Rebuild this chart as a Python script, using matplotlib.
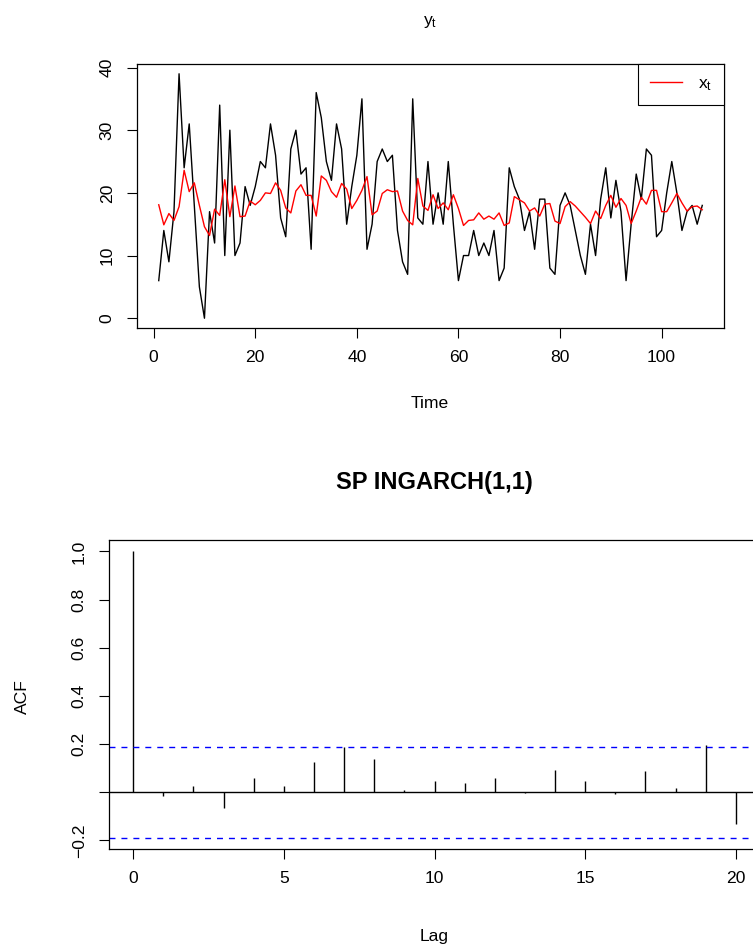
import matplotlib
matplotlib.use('Agg')
import matplotlib.pyplot as plt
import numpy as np

plt.rcParams['font.family'] = ['Liberation Sans', 'DejaVu Sans']
plt.rcParams['mathtext.fontset'] = 'custom'
plt.rcParams['mathtext.rm'] = 'Liberation Sans'
plt.rcParams['mathtext.it'] = 'Liberation Sans:italic'
plt.rcParams['axes.unicode_minus'] = True

# observed counts y_t
y_obs = [6, 14, 9, 17, 39, 24, 31, 18, 5, 0,
         17, 12, 34, 10, 30, 10, 12, 21, 18, 21,
         25, 24, 31, 26, 16, 13, 27, 30, 23, 24,
         11, 36, 32, 25, 22, 31, 27, 15, 21, 26,
         35, 11, 15, 25, 27, 25, 26, 14, 9, 7,
         35, 16, 15, 25, 15, 20, 15, 25, 15, 6,
         10, 10, 14, 10, 12, 10, 14, 6, 8, 24,
         21, 19, 14, 17, 11, 19, 19, 8, 7, 18,
         20, 18, 14, 10, 7, 15, 10, 19, 24, 16,
         22, 17, 6, 15, 23, 19, 27, 26, 13, 14,
         20, 25, 20, 14, 17, 18, 15, 18]

# fitted intensity x_t
x_fit = [18.1, 14.9, 16.7, 15.6, 17.8, 23.6, 20.2, 21.6, 18.0, 14.6,
         13.2, 17.4, 16.4, 22.1, 16.2, 21.1, 16.2, 16.3, 18.7, 18.1,
         18.8, 20.0, 19.9, 21.6, 20.4, 17.6, 16.8, 20.3, 21.3, 19.6,
         19.6, 16.3, 22.7, 22.0, 20.2, 19.3, 21.5, 20.6, 17.5, 18.8,
         20.4, 22.6, 16.5, 17.1, 19.9, 20.5, 20.2, 20.3, 17.1, 15.6,
         14.9, 22.3, 17.9, 17.2, 19.7, 17.5, 18.4, 17.3, 19.7, 17.5,
         14.8, 15.6, 15.7, 16.8, 15.8, 16.3, 15.8, 16.8, 14.8, 15.2,
         19.4, 18.9, 18.4, 17.1, 17.6, 16.3, 18.2, 18.3, 15.5, 15.1,
         17.8, 18.6, 17.9, 17.0, 16.1, 15.1, 17.1, 15.9, 18.0, 19.6,
         17.7, 19.1, 18.0, 15.1, 17.1, 19.3, 18.2, 20.4, 20.4, 17.0,
         17.0, 18.4, 19.9, 18.4, 17.1, 17.8, 17.9, 17.3]

# sample ACF (lags 0..20)
lags = list(range(21))
acf_vals = [1.0, -0.017, 0.026, -0.064, 0.057, 0.026, 0.126, 0.186, 0.137, 0.011,
            0.047, 0.036, 0.057, -0.003, 0.092, 0.046, -0.008, 0.088, 0.017, 0.194,
            -0.131]
n_obs = 108
conf = 1.96 / np.sqrt(n_obs)

W, H = 753, 951
fig = plt.figure(figsize=(W / 100, H / 100), dpi=100)

def box(l, t, r, b):
    return [l / W, 1 - b / H, (r - l) / W, (b - t) / H]

fs = 12.6

def style(ax):
    for s in ax.spines.values():
        s.set_linewidth(0.9)
    ax.tick_params(direction='out', length=7, width=0.8, labelsize=fs, pad=9)

# ---- top panel: time series
t = np.arange(1, len(y_obs) + 1)
ax1 = fig.add_axes(box(137, 64, 724, 328))
ax1.plot(t, y_obs, color='black', lw=1.0)
ax1.plot(t, x_fit, color='red', lw=1.0, label=r'$\mathrm{x_t}$')
ax1.set_xlim(1 - 0.04 * 107, 108 + 0.04 * 107)
ax1.set_ylim(-0.04 * 39, 39 * 1.04)
ax1.set_xticks([0, 20, 40, 60, 80, 100])
ax1.set_yticks([0, 10, 20, 30, 40])
style(ax1)
plt.setp(ax1.get_yticklabels(), rotation=90, va='center')
leg = ax1.legend(loc='upper right', borderaxespad=0, fancybox=False, edgecolor='black',
                 framealpha=1, fontsize=fs, handlelength=1.8, borderpad=0.7,
                 handletextpad=0.9)
leg.get_frame().set_linewidth(0.8)
fig.text(430 / W, 1 - 22 / H, r'$\mathrm{y_t}$', ha='center', va='center', fontsize=fs)
fig.text(430 / W, 1 - 403 / H, 'Time', ha='center', va='center', fontsize=fs)

# ---- bottom panel: ACF
ax2 = fig.add_axes(box(109, 540, 760, 849))
ax2.vlines(lags, 0, acf_vals, color='black', lw=1.0)
ax2.axhline(0, color='black', lw=1.0)
ax2.axhline(conf, color='blue', lw=1.0, dashes=(4.3, 4.3))
ax2.axhline(-conf, color='blue', lw=1.0, dashes=(4.3, 4.3))
lo, hi = -conf, 1.0
rng = hi - lo
ax2.set_xlim(-0.8, 20.8)
ax2.set_ylim(lo - 0.04 * rng, hi + 0.04 * rng)
ax2.set_xticks([0, 5, 10, 15, 20])
ax2.set_yticks([-0.2, 0.0, 0.2, 0.4, 0.6, 0.8, 1.0])
ax2.set_yticklabels(['\u22120.2', '', '0.2', '0.4', '0.6', '0.8', '1.0'])
style(ax2)
plt.setp(ax2.get_yticklabels(), rotation=90, va='center')
fig.text(434 / W, 1 - 483 / H, 'SP INGARCH(1,1)', ha='center', va='center',
         fontsize=17, fontweight='bold')
fig.text(434 / W, 1 - 937 / H, 'Lag', ha='center', va='center', fontsize=fs)
fig.text(22 / W, 1 - 697 / H, 'ACF', ha='center', va='center', fontsize=fs, rotation=90)

fig.savefig('out.png', dpi=100)
